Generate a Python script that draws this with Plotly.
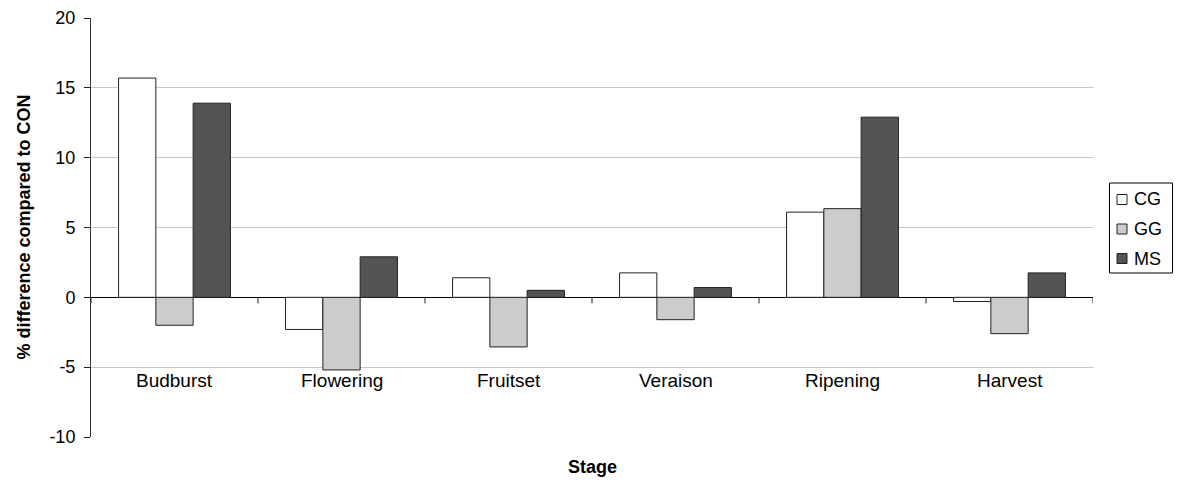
import plotly.graph_objects as go

# Growth stages and % difference of each treatment relative to CON
stages = ["Budburst", "Flowering", "Fruitset", "Veraison", "Ripening", "Harvest"]
cg = [15.7, -2.3, 1.4, 1.75, 6.1, -0.3]
gg = [-2.0, -5.2, -3.55, -1.6, 6.35, -2.6]
ms = [13.9, 2.9, 0.5, 0.7, 12.9, 1.75]
y_ticks = [-10, -5, 0, 5, 10, 15, 20]
y_tick_text = ["-10", "-5", "0", "5", "10", "15", "20"]
series_names = ["CG", "GG", "MS"]
series_fills = ["#ffffff", "#cccccc", "#545454"]

FONT = "Liberation Sans, Arial, sans-serif"
W, H = 1177, 483
M_L, M_R, M_T, M_B = 91, 84, 18, 46
PLOT_W, PLOT_H = W - M_L - M_R, H - M_T - M_B
outline = dict(color="#222222", width=1)


def px_x(px):
    """Pixel column -> paper x (relative to the plot area)."""
    return (px - M_L) / PLOT_W


def px_y(py):
    """Pixel row -> paper y (relative to the plot area)."""
    return (M_T + PLOT_H - py) / PLOT_H


fig = go.Figure()
for name, vals, fill in zip(series_names, [cg, gg, ms], series_fills):
    fig.add_trace(go.Bar(
        x=list(range(len(stages))), y=vals, name=name, showlegend=False,
        marker=dict(color=fill, line=outline),
    ))

shapes = []
# Category tick marks hanging below the zero line at group boundaries
for b in [i - 0.5 for i in range(len(stages) + 1)]:
    shapes.append(dict(type="line", xref="x", yref="y", x0=b, x1=b, y0=0, y1=-0.43,
                       line=dict(color="#222222", width=1)))

annotations = []
# Category names sit just below the -5 gridline
for i, s in enumerate(stages):
    annotations.append(dict(x=i, y=-5, xref="x", yref="y", text=s, showarrow=False,
                            yanchor="top", yshift=-1, font=dict(family=FONT, size=19, color="#000000")))
annotations.append(dict(x=0.5, y=0, xref="paper", yref="paper", text="<b>Stage</b>",
                        showarrow=False, yanchor="middle", yshift=-30,
                        font=dict(family=FONT, size=18, color="#000000")))
annotations.append(dict(x=0, y=0.5, xref="paper", yref="paper", text="<b>% difference compared to CON</b>",
                        showarrow=False, textangle=-90, xanchor="center", xshift=-68,
                        font=dict(family=FONT, size=18, color="#000000")))

# Compact boxed legend on the right
shapes.append(dict(type="rect", xref="paper", yref="paper",
                   x0=px_x(1109.5), x1=px_x(1172.5), y0=px_y(273), y1=px_y(183),
                   line=dict(color="#000000", width=1), fillcolor="white", layer="above"))
for k, (name, fill) in enumerate(zip(series_names, series_fills)):
    cy = 199.5 + 29.5 * k
    shapes.append(dict(type="rect", xref="paper", yref="paper",
                       x0=px_x(1117), x1=px_x(1127), y0=px_y(cy + 5), y1=px_y(cy - 5),
                       line=dict(color="#222222", width=1), fillcolor=fill, layer="above"))
    annotations.append(dict(x=px_x(1132), y=px_y(cy), xref="paper", yref="paper", text=name,
                            showarrow=False, xanchor="left", yanchor="middle",
                            font=dict(family=FONT, size=18, color="#000000")))

fig.update_layout(
    width=W, height=H,
    margin=dict(l=M_L, r=M_R, t=M_T, b=M_B, autoexpand=False),
    paper_bgcolor="white", plot_bgcolor="white",
    barmode="group", bargap=0.33, bargroupgap=0,
    font=dict(family=FONT, size=17, color="#000000"),
    showlegend=False,
    shapes=shapes, annotations=annotations,
    xaxis=dict(range=[-0.5, len(stages) - 0.5], showticklabels=False, showgrid=False,
               zeroline=False, showline=False, ticks=""),
    yaxis=dict(range=[-10, 20], tickvals=y_ticks, ticktext=y_tick_text, ticks="outside", ticklen=6,
               tickcolor="#222222", showline=True, linecolor="#333333", linewidth=1,
               ticklabelstandoff=5,
               gridcolor="#c8c8c8", gridwidth=1, zeroline=True, zerolinecolor="#000000",
               zerolinewidth=1, tickfont=dict(family=FONT, size=18, color="#000000")),
)

fig.write_html("out.html")
